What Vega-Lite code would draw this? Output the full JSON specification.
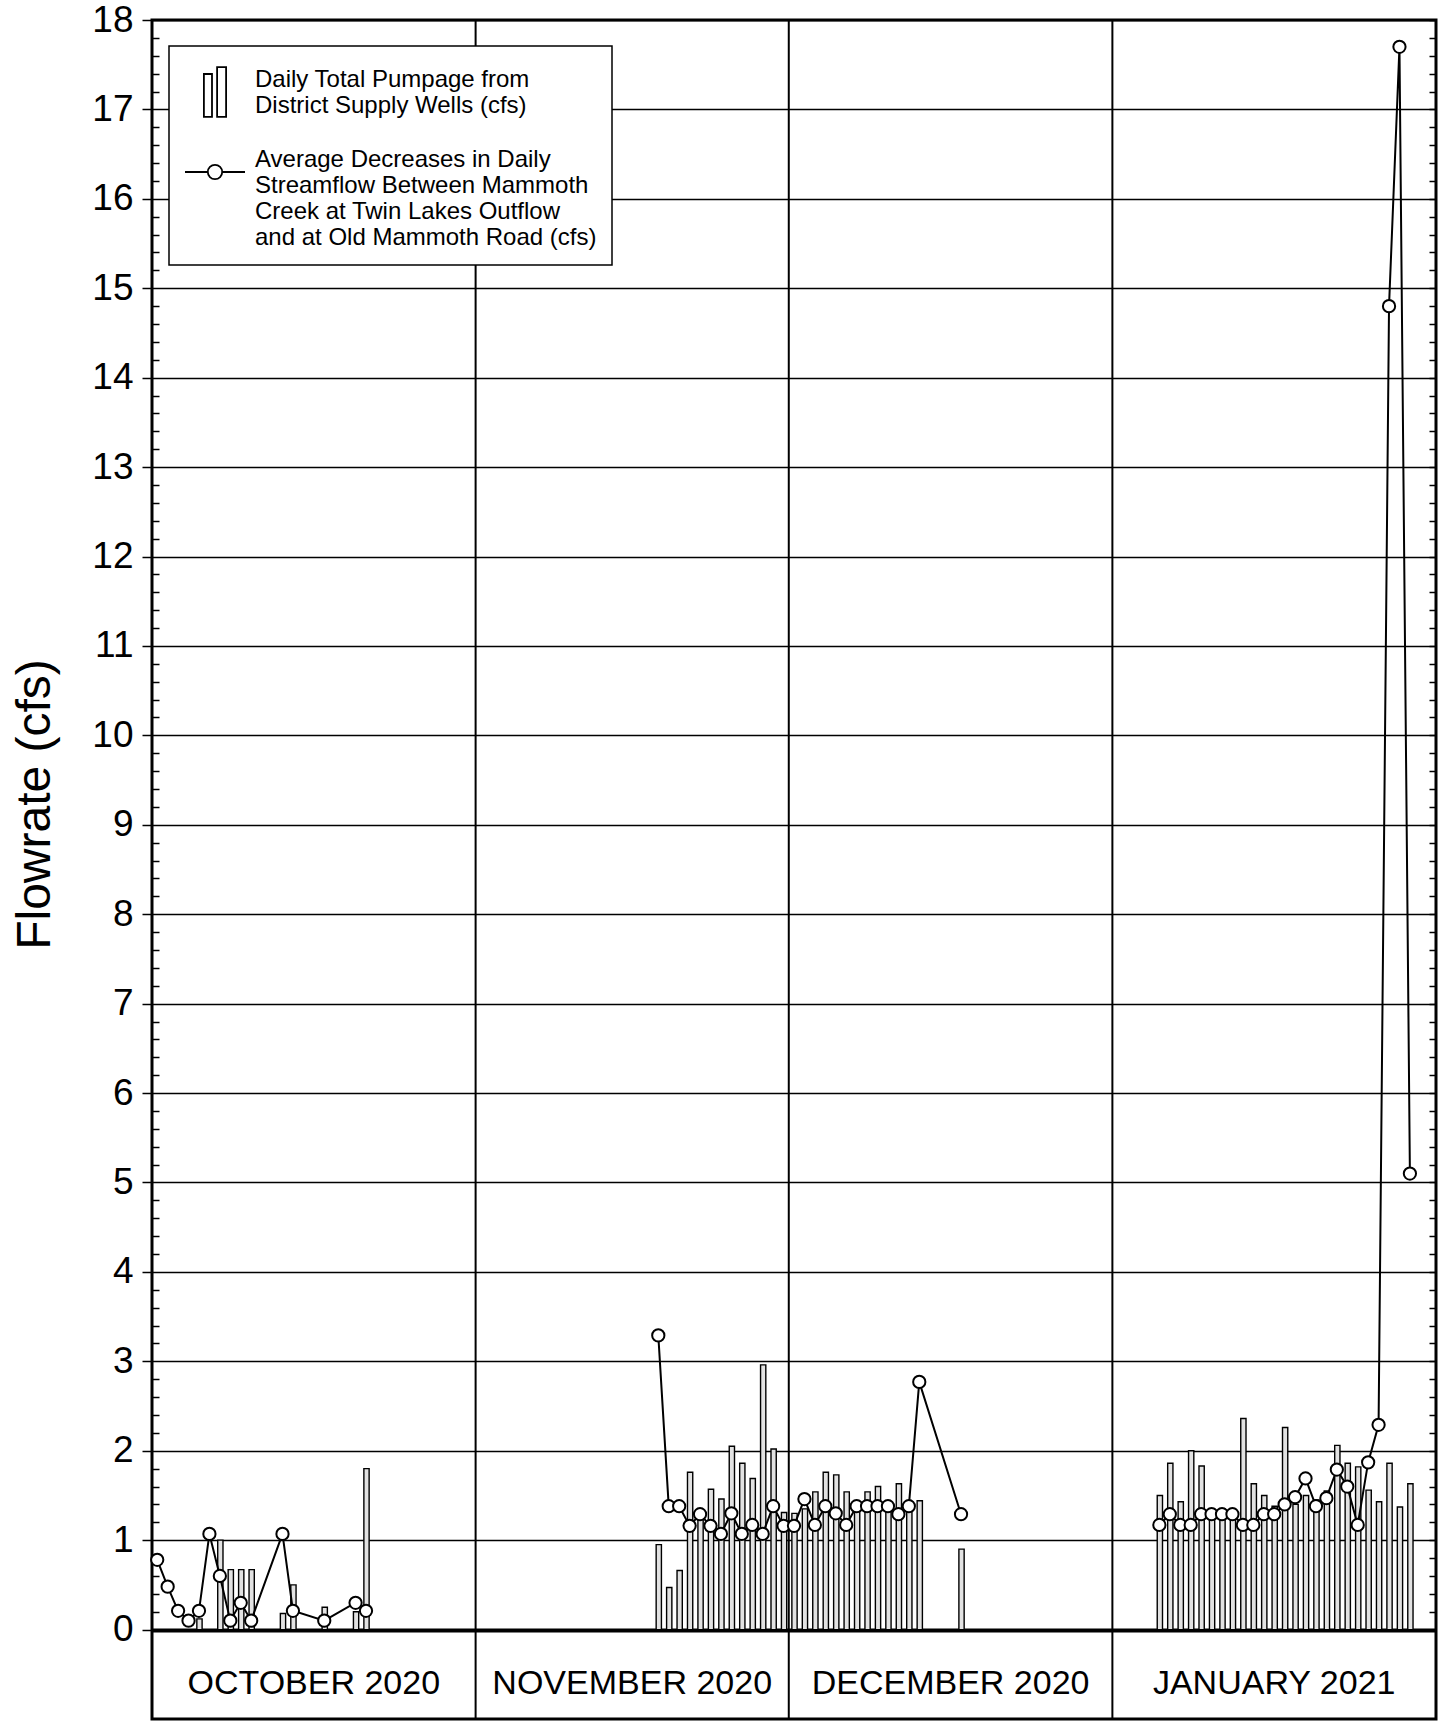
{
  "$schema": "https://vega.github.io/schema/vega-lite/v6.json",
  "width": 1284,
  "height": 1699,
  "autosize": {"type": "none"},
  "padding": {"left": 152, "top": 20, "right": 14, "bottom": 8},
  "background": "white",
  "config": {
    "view": {"stroke": "black", "strokeWidth": 3},
    "font": "Liberation Sans",
    "legend": {"strokeWidth": 1.5}
  },
  "datasets": {
    "pumpage": [
      {"date": "2020-10-05", "flow": 0.12},
      {"date": "2020-10-07", "flow": 1.0},
      {"date": "2020-10-08", "flow": 0.67},
      {"date": "2020-10-09", "flow": 0.67},
      {"date": "2020-10-10", "flow": 0.67},
      {"date": "2020-10-13", "flow": 0.18},
      {"date": "2020-10-14", "flow": 0.5},
      {"date": "2020-10-17", "flow": 0.25},
      {"date": "2020-10-20", "flow": 0.2},
      {"date": "2020-10-21", "flow": 1.8},
      {"date": "2020-11-18", "flow": 0.95},
      {"date": "2020-11-19", "flow": 0.47},
      {"date": "2020-11-20", "flow": 0.66},
      {"date": "2020-11-21", "flow": 1.76},
      {"date": "2020-11-22", "flow": 1.25},
      {"date": "2020-11-23", "flow": 1.57},
      {"date": "2020-11-24", "flow": 1.46},
      {"date": "2020-11-25", "flow": 2.05},
      {"date": "2020-11-26", "flow": 1.86},
      {"date": "2020-11-27", "flow": 1.69},
      {"date": "2020-11-28", "flow": 2.96},
      {"date": "2020-11-29", "flow": 2.02},
      {"date": "2020-11-30", "flow": 1.31},
      {"date": "2020-12-01", "flow": 1.3},
      {"date": "2020-12-02", "flow": 1.35},
      {"date": "2020-12-03", "flow": 1.54},
      {"date": "2020-12-04", "flow": 1.76},
      {"date": "2020-12-05", "flow": 1.73},
      {"date": "2020-12-06", "flow": 1.54},
      {"date": "2020-12-07", "flow": 1.35},
      {"date": "2020-12-08", "flow": 1.54},
      {"date": "2020-12-09", "flow": 1.6},
      {"date": "2020-12-10", "flow": 1.4},
      {"date": "2020-12-11", "flow": 1.63},
      {"date": "2020-12-12", "flow": 1.34},
      {"date": "2020-12-13", "flow": 1.44},
      {"date": "2020-12-17", "flow": 0.9},
      {"date": "2021-01-05", "flow": 1.5},
      {"date": "2021-01-06", "flow": 1.86},
      {"date": "2021-01-07", "flow": 1.43},
      {"date": "2021-01-08", "flow": 2.0},
      {"date": "2021-01-09", "flow": 1.83},
      {"date": "2021-01-10", "flow": 1.35},
      {"date": "2021-01-11", "flow": 1.35},
      {"date": "2021-01-12", "flow": 1.35},
      {"date": "2021-01-13", "flow": 2.36},
      {"date": "2021-01-14", "flow": 1.63},
      {"date": "2021-01-15", "flow": 1.5},
      {"date": "2021-01-16", "flow": 1.38},
      {"date": "2021-01-17", "flow": 2.26},
      {"date": "2021-01-18", "flow": 1.4},
      {"date": "2021-01-19", "flow": 1.5},
      {"date": "2021-01-20", "flow": 1.45},
      {"date": "2021-01-21", "flow": 1.55},
      {"date": "2021-01-22", "flow": 2.06},
      {"date": "2021-01-23", "flow": 1.86},
      {"date": "2021-01-24", "flow": 1.82},
      {"date": "2021-01-25", "flow": 1.56},
      {"date": "2021-01-26", "flow": 1.43},
      {"date": "2021-01-27", "flow": 1.86},
      {"date": "2021-01-28", "flow": 1.37},
      {"date": "2021-01-29", "flow": 1.63}
    ],
    "streamflow": [
      {"date": "2020-10-01", "flow": 0.78, "segment": "oct"},
      {"date": "2020-10-02", "flow": 0.48, "segment": "oct"},
      {"date": "2020-10-03", "flow": 0.21, "segment": "oct"},
      {"date": "2020-10-04", "flow": 0.1, "segment": "oct"},
      {"date": "2020-10-05", "flow": 0.21, "segment": "oct"},
      {"date": "2020-10-06", "flow": 1.07, "segment": "oct"},
      {"date": "2020-10-07", "flow": 0.6, "segment": "oct"},
      {"date": "2020-10-08", "flow": 0.1, "segment": "oct"},
      {"date": "2020-10-09", "flow": 0.3, "segment": "oct"},
      {"date": "2020-10-10", "flow": 0.1, "segment": "oct"},
      {"date": "2020-10-13", "flow": 1.07, "segment": "oct"},
      {"date": "2020-10-14", "flow": 0.21, "segment": "oct"},
      {"date": "2020-10-17", "flow": 0.1, "segment": "oct"},
      {"date": "2020-10-20", "flow": 0.3, "segment": "oct"},
      {"date": "2020-10-21", "flow": 0.21, "segment": "oct"},
      {"date": "2020-11-18", "flow": 3.29, "segment": "novdec"},
      {"date": "2020-11-19", "flow": 1.38, "segment": "novdec"},
      {"date": "2020-11-20", "flow": 1.38, "segment": "novdec"},
      {"date": "2020-11-21", "flow": 1.16, "segment": "novdec"},
      {"date": "2020-11-22", "flow": 1.29, "segment": "novdec"},
      {"date": "2020-11-23", "flow": 1.16, "segment": "novdec"},
      {"date": "2020-11-24", "flow": 1.07, "segment": "novdec"},
      {"date": "2020-11-25", "flow": 1.3, "segment": "novdec"},
      {"date": "2020-11-26", "flow": 1.07, "segment": "novdec"},
      {"date": "2020-11-27", "flow": 1.17, "segment": "novdec"},
      {"date": "2020-11-28", "flow": 1.07, "segment": "novdec"},
      {"date": "2020-11-29", "flow": 1.38, "segment": "novdec"},
      {"date": "2020-11-30", "flow": 1.16, "segment": "novdec"},
      {"date": "2020-12-01", "flow": 1.16, "segment": "novdec"},
      {"date": "2020-12-02", "flow": 1.46, "segment": "novdec"},
      {"date": "2020-12-03", "flow": 1.17, "segment": "novdec"},
      {"date": "2020-12-04", "flow": 1.38, "segment": "novdec"},
      {"date": "2020-12-05", "flow": 1.3, "segment": "novdec"},
      {"date": "2020-12-06", "flow": 1.17, "segment": "novdec"},
      {"date": "2020-12-07", "flow": 1.38, "segment": "novdec"},
      {"date": "2020-12-08", "flow": 1.38, "segment": "novdec"},
      {"date": "2020-12-09", "flow": 1.38, "segment": "novdec"},
      {"date": "2020-12-10", "flow": 1.38, "segment": "novdec"},
      {"date": "2020-12-11", "flow": 1.29, "segment": "novdec"},
      {"date": "2020-12-12", "flow": 1.38, "segment": "novdec"},
      {"date": "2020-12-13", "flow": 2.77, "segment": "novdec"},
      {"date": "2020-12-17", "flow": 1.29, "segment": "novdec"},
      {"date": "2021-01-05", "flow": 1.17, "segment": "jan"},
      {"date": "2021-01-06", "flow": 1.29, "segment": "jan"},
      {"date": "2021-01-07", "flow": 1.17, "segment": "jan"},
      {"date": "2021-01-08", "flow": 1.17, "segment": "jan"},
      {"date": "2021-01-09", "flow": 1.29, "segment": "jan"},
      {"date": "2021-01-10", "flow": 1.29, "segment": "jan"},
      {"date": "2021-01-11", "flow": 1.29, "segment": "jan"},
      {"date": "2021-01-12", "flow": 1.29, "segment": "jan"},
      {"date": "2021-01-13", "flow": 1.17, "segment": "jan"},
      {"date": "2021-01-14", "flow": 1.17, "segment": "jan"},
      {"date": "2021-01-15", "flow": 1.29, "segment": "jan"},
      {"date": "2021-01-16", "flow": 1.29, "segment": "jan"},
      {"date": "2021-01-17", "flow": 1.4, "segment": "jan"},
      {"date": "2021-01-18", "flow": 1.48, "segment": "jan"},
      {"date": "2021-01-19", "flow": 1.69, "segment": "jan"},
      {"date": "2021-01-20", "flow": 1.38, "segment": "jan"},
      {"date": "2021-01-21", "flow": 1.47, "segment": "jan"},
      {"date": "2021-01-22", "flow": 1.79, "segment": "jan"},
      {"date": "2021-01-23", "flow": 1.6, "segment": "jan"},
      {"date": "2021-01-24", "flow": 1.17, "segment": "jan"},
      {"date": "2021-01-25", "flow": 1.87, "segment": "jan"},
      {"date": "2021-01-26", "flow": 2.29, "segment": "jan"},
      {"date": "2021-01-27", "flow": 14.8, "segment": "jan"},
      {"date": "2021-01-28", "flow": 17.7, "segment": "jan"},
      {"date": "2021-01-29", "flow": 5.1, "segment": "jan"}
    ],
    "monthStarts": [
      {"date": "2020-11-01"},
      {"date": "2020-12-01"},
      {"date": "2021-01-01"}
    ],
    "months": [
      {"date": "2020-10-16T12:00:00Z", "label": "OCTOBER 2020"},
      {"date": "2020-11-16T00:00:00Z", "label": "NOVEMBER 2020"},
      {"date": "2020-12-16T12:00:00Z", "label": "DECEMBER 2020"},
      {"date": "2021-01-16T12:00:00Z", "label": "JANUARY 2021"}
    ],
    "legendItems": [
      {"series": "Daily Total Pumpage from|District Supply Wells (cfs)"},
      {"series": "Average Decreases in Daily|Streamflow Between Mammoth|Creek at Twin Lakes Outflow|and at Old Mammoth Road (cfs)"}
    ]
  },
  "layer": [
    {
      "data": {"name": "monthStarts"},
      "mark": {"type": "rule", "color": "black", "strokeWidth": 2},
      "encoding": {
        "x": {
          "field": "date", "type": "temporal", "timeUnit": "utcyearmonthdate", "bandPosition": 0,
          "scale": {"domain": [{"year": 2020, "month": 10, "date": 1, "utc": true}, {"year": 2021, "month": 2, "date": 1, "utc": true}]},
          "axis": null
        }
      }
    },
    {
      "data": {"name": "pumpage"},
      "mark": {"type": "bar", "fill": "#e2e2e2", "stroke": "black", "strokeWidth": 1.4, "width": {"band": 0.6}},
      "encoding": {
        "x": {"field": "date", "type": "temporal", "timeUnit": "utcyearmonthdate", "axis": null},
        "y": {
          "field": "flow", "type": "quantitative",
          "scale": {"domain": [-1, 18], "nice": false},
          "axis": {
            "orient": "left",
            "values": [0,0.2,0.4,0.6,0.8,1,1.2,1.4,1.6,1.8,2,2.2,2.4,2.6,2.8,3,3.2,3.4,3.6,3.8,4,4.2,4.4,4.6,4.8,5,5.2,5.4,5.6,5.8,6,6.2,6.4,6.6,6.8,7,7.2,7.4,7.6,7.8,8,8.2,8.4,8.6,8.8,9,9.2,9.4,9.6,9.8,10,10.2,10.4,10.6,10.8,11,11.2,11.4,11.6,11.8,12,12.2,12.4,12.6,12.8,13,13.2,13.4,13.6,13.8,14,14.2,14.4,14.6,14.8,15,15.2,15.4,15.6,15.8,16,16.2,16.4,16.6,16.8,17,17.2,17.4,17.6,17.8,18],
            "labelExpr": "datum.value % 1 === 0 ? format(datum.value, 'd') : ''",
            "labelFont": "Liberation Sans", "labelFontSize": 37, "labelColor": "black",
            "labelPadding": 9, "labelOverlap": false,
            "tickSize": {"condition": {"test": "datum.value % 1 === 0", "value": 10}, "value": -7},
            "tickColor": "black", "tickWidth": 1.5,
            "grid": true, "gridColor": "black",
            "gridOpacity": {"condition": {"test": "datum.value % 1 === 0", "value": 1}, "value": 0},
            "gridWidth": {"condition": {"test": "datum.value === 0", "value": 4}, "value": 1.6},
            "domain": false,
            "title": "Flowrate (cfs)", "titleFont": "Liberation Sans", "titleFontSize": 48,
            "titleFontWeight": "normal", "titleColor": "black",
            "titleX": -117, "titleY": 784, "titleBaseline": "middle", "titleAlign": "center"
          }
        },
        "y2": {"datum": 0}
      }
    },
    {
      "data": {"name": "streamflow"},
      "mark": {"type": "line", "color": "black", "strokeWidth": 2},
      "encoding": {
        "x": {"field": "date", "type": "temporal", "timeUnit": "utcyearmonthdate", "bandPosition": 0.5, "axis": null},
        "y": {
          "field": "flow", "type": "quantitative",
          "axis": {
            "orient": "right",
            "values": [0,0.2,0.4,0.6,0.8,1,1.2,1.4,1.6,1.8,2,2.2,2.4,2.6,2.8,3,3.2,3.4,3.6,3.8,4,4.2,4.4,4.6,4.8,5,5.2,5.4,5.6,5.8,6,6.2,6.4,6.6,6.8,7,7.2,7.4,7.6,7.8,8,8.2,8.4,8.6,8.8,9,9.2,9.4,9.6,9.8,10,10.2,10.4,10.6,10.8,11,11.2,11.4,11.6,11.8,12,12.2,12.4,12.6,12.8,13,13.2,13.4,13.6,13.8,14,14.2,14.4,14.6,14.8,15,15.2,15.4,15.6,15.8,16,16.2,16.4,16.6,16.8,17,17.2,17.4,17.6,17.8,18],
            "labels": false, "tickSize": -7, "tickColor": "black", "tickWidth": 1.5,
            "grid": false, "domain": false, "title": null
          }
        },
        "detail": {"field": "segment", "type": "nominal"}
      }
    },
    {
      "data": {"name": "streamflow"},
      "mark": {"type": "point", "shape": "circle", "filled": true, "fill": "white", "stroke": "black", "strokeWidth": 2, "size": 150, "opacity": 1},
      "encoding": {
        "x": {"field": "date", "type": "temporal", "timeUnit": "utcyearmonthdate", "bandPosition": 0.5, "axis": null},
        "y": {"field": "flow", "type": "quantitative", "axis": null}
      }
    },
    {
      "data": {"name": "months"},
      "mark": {"type": "text", "font": "Liberation Sans", "fontSize": 34, "color": "black", "baseline": "middle", "align": "center"},
      "encoding": {
        "x": {"field": "date", "type": "temporal", "timeUnit": "utcyearmonthdatehours", "axis": null},
        "y": {"datum": -0.61, "type": "quantitative", "axis": null},
        "text": {"field": "label"}
      }
    },
    {
      "data": {"name": "legendItems"},
      "mark": {"type": "point", "filled": false, "color": "black", "strokeWidth": 1.8, "clip": true},
      "encoding": {
        "y": {"datum": 40, "type": "quantitative", "axis": null},
        "shape": {
          "field": "series", "type": "nominal",
          "scale": {
            "domain": ["Daily Total Pumpage from|District Supply Wells (cfs)", "Average Decreases in Daily|Streamflow Between Mammoth|Creek at Twin Lakes Outflow|and at Old Mammoth Road (cfs)"],
            "range": ["M-0.37,0.83L-0.37,-0.6L-0.1,-0.6L-0.1,0.83ZM0.07,0.83L0.07,-0.83L0.37,-0.83L0.37,0.83Z", "M-1,0L-0.24,0M0.24,0L1,0M0.24,0A0.24,0.24,0,1,1,-0.24,0A0.24,0.24,0,1,1,0.24,0Z"]
          },
          "legend": {
            "orient": "none", "legendX": 17, "legendY": 26, "title": null, "direction": "vertical",
            "symbolSize": 3600, "symbolStrokeWidth": 1.8, "symbolStrokeColor": "black", "symbolOpacity": 1,
            "labelFont": "Liberation Sans", "labelFontSize": 24, "labelColor": "black", "labelLimit": 600, "labelOffset": 9,
            "labelBaseline": "bottom",
            "labelExpr": "split(datum.label, '|')",
            "padding": 15, "rowPadding": 20, "strokeColor": "black", "fillColor": "white"
          }
        }
      }
    }
  ],
  "resolve": {"scale": {"y": "shared"}, "axis": {"y": "independent"}}
}
